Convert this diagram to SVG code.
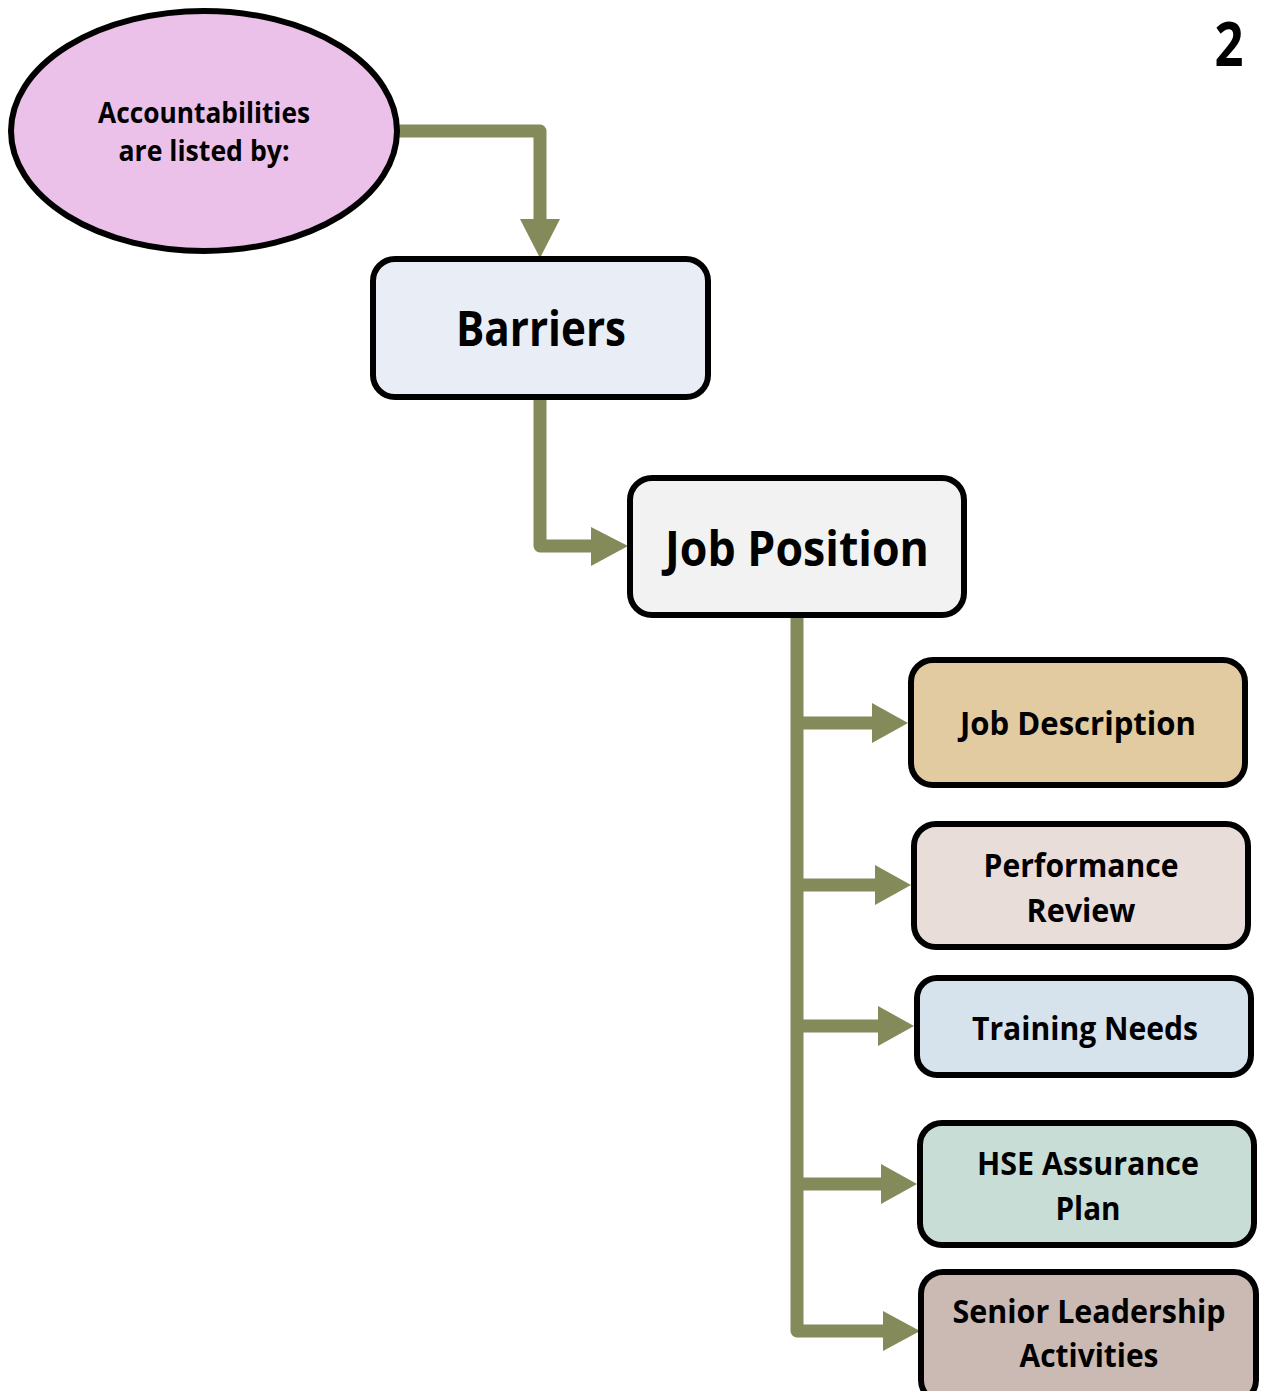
<svg xmlns="http://www.w3.org/2000/svg" width="1264" height="1391" viewBox="0 0 1264 1391">
<style>
.box{stroke:#000;stroke-width:6}
.t{font-family:"Open Sans","Noto Sans","DejaVu Sans",sans-serif;font-weight:bold;fill:#000;text-anchor:middle}
.c{fill:none;stroke:#848A5A;stroke-width:13;stroke-linejoin:round;stroke-linecap:butt}
.ah{fill:#848A5A}
</style>
<rect width="1264" height="1391" fill="#fff"/>
<g id="connectors">
<path class="c" d="M398,131 H540 V222"/>
<polygon class="ah" points="520,219 560,219 540,258"/>
<path class="c" d="M540,397 V546 H594"/>
<polygon class="ah" points="591,527 628,546 591,566"/>
<path class="c" d="M797,615 V1331 H886"/>
<path class="c" d="M797,723 H875"/>
<polygon class="ah" points="872,703 908,723 872,743"/>
<path class="c" d="M797,885 H878"/>
<polygon class="ah" points="875,865 911,885 875,905"/>
<path class="c" d="M797,1026 H881"/>
<polygon class="ah" points="878,1006 914,1026 878,1046"/>
<path class="c" d="M797,1184 H884"/>
<polygon class="ah" points="881,1164 917,1184 881,1204"/>
<polygon class="ah" points="883,1311 920,1331 883,1351"/>
</g>
<g id="accountabilities">
<ellipse class="box" cx="204" cy="131" rx="193" ry="120" fill="#EBC1E9"/>
<text class="t" x="204" y="123" font-size="28" textLength="212" lengthAdjust="spacingAndGlyphs">Accountabilities</text>
<text class="t" x="204" y="161" font-size="28" textLength="171" lengthAdjust="spacingAndGlyphs">are listed by:</text>
</g>
<g id="barriers">
<rect class="box" x="373" y="259" width="335" height="138" rx="22" fill="#E9EEF6"/>
<text class="t" x="541" y="346" font-size="48" textLength="170" lengthAdjust="spacingAndGlyphs">Barriers</text>
</g>
<g id="job-position">
<rect class="box" x="630" y="478" width="334" height="137" rx="22" fill="#F2F2F2"/>
<text class="t" x="797" y="566" font-size="48" textLength="264" lengthAdjust="spacingAndGlyphs">Job Position</text>
</g>
<g id="job-description">
<rect class="box" x="911" y="660" width="334" height="125" rx="22" fill="#E2CBA0"/>
<text class="t" x="1078" y="735" font-size="33" textLength="236" lengthAdjust="spacingAndGlyphs">Job Description</text>
</g>
<g id="performance-review">
<rect class="box" x="914" y="824" width="334" height="123" rx="22" fill="#E8DDD9"/>
<text class="t" x="1081" y="877" font-size="33" textLength="195" lengthAdjust="spacingAndGlyphs">Performance</text>
<text class="t" x="1081" y="922" font-size="33" textLength="109" lengthAdjust="spacingAndGlyphs">Review</text>
</g>
<g id="training-needs">
<rect class="box" x="917" y="978" width="334" height="97" rx="20" fill="#D6E3ED"/>
<text class="t" x="1085" y="1040" font-size="33" textLength="226" lengthAdjust="spacingAndGlyphs">Training Needs</text>
</g>
<g id="hse-assurance-plan">
<rect class="box" x="920" y="1123" width="334" height="122" rx="22" fill="#C8DDD5"/>
<text class="t" x="1088" y="1175" font-size="33" textLength="222" lengthAdjust="spacingAndGlyphs">HSE Assurance</text>
<text class="t" x="1088" y="1220" font-size="33" textLength="65" lengthAdjust="spacingAndGlyphs">Plan</text>
</g>
<g id="senior-leadership-activities">
<rect class="box" x="921" y="1272" width="335" height="130" rx="22" fill="#CABAB3"/>
<text class="t" x="1089" y="1323" font-size="33" textLength="273" lengthAdjust="spacingAndGlyphs">Senior Leadership</text>
<text class="t" x="1089" y="1367" font-size="33" textLength="139" lengthAdjust="spacingAndGlyphs">Activities</text>
</g>
<g id="page-number">
<text class="t" x="1229" y="66" font-size="60" textLength="29" lengthAdjust="spacingAndGlyphs">2</text>
</g>
</svg>
